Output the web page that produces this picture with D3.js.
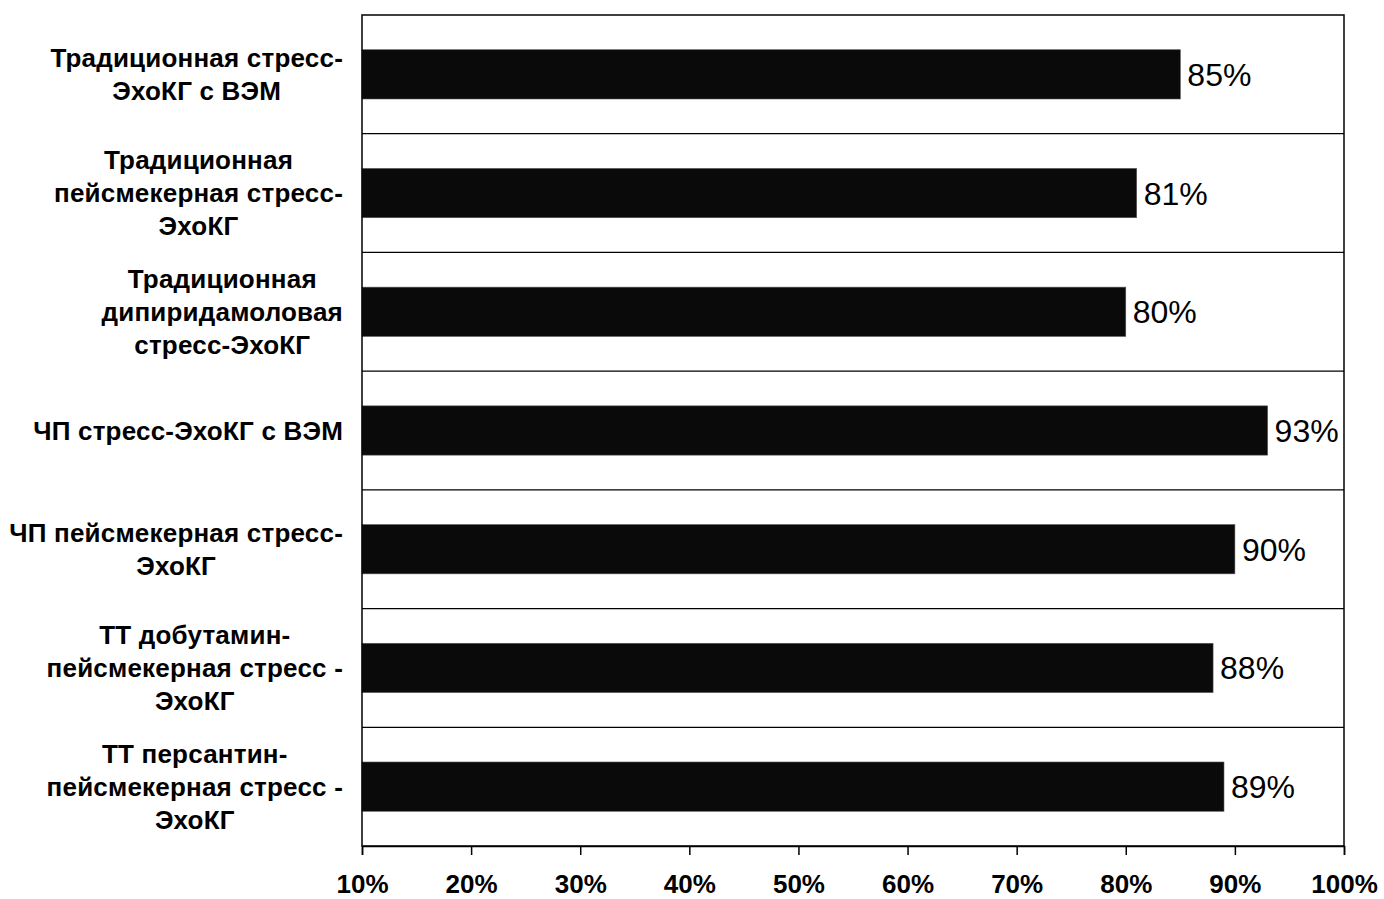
<!DOCTYPE html>
<html>
<head>
<meta charset="utf-8">
<script src="https://cdn.jsdelivr.net/npm/d3@7"></script>
<style>
  html, body { margin: 0; padding: 0; background: #fff; }
  svg { display: block; }
</style>
</head>
<body>
<svg id="chart" width="1384" height="899"></svg>
<script>
// Methods (each label split into lines as printed)
const categories = [
  ["Традиционная стресс-", "ЭхоКГ с ВЭМ"],
  ["Традиционная", "пейсмекерная стресс-", "ЭхоКГ"],
  ["Традиционная", "дипиридамоловая", "стресс-ЭхоКГ"],
  ["ЧП стресс-ЭхоКГ с ВЭМ"],
  ["ЧП пейсмекерная стресс-", "ЭхоКГ"],
  ["ТТ добутамин-", "пейсмекерная стресс -", "ЭхоКГ"],
  ["ТТ персантин-", "пейсмекерная стресс -", "ЭхоКГ"]
];
// Percentage values per method
const values = [85, 81, 80, 93, 90, 88, 89];
// X axis tick values (percent)
const xTicks = [10, 20, 30, 40, 50, 60, 70, 80, 90, 100];

const svg = d3.select("#chart");
const plot = { left: 362, right: 1344, top: 15, bottom: 846 };
const font = "'Liberation Sans', Arial, sans-serif";

const x = d3.scaleLinear().domain([10, 100]).range([plot.left, plot.right]);
const y = d3.scaleBand()
  .domain(d3.range(categories.length))
  .range([plot.top, plot.bottom])
  .paddingInner(0.585)
  .paddingOuter(0.2925);

const step = y.step();

// Bars
svg.append("g").selectAll("rect")
  .data(values)
  .join("rect")
  .attr("x", x(10))
  .attr("y", (d, i) => y(i))
  .attr("width", d => x(d) - x(10))
  .attr("height", y.bandwidth())
  .attr("fill", "#0a0a0a")
  .attr("stroke", "#555")
  .attr("stroke-width", 0.6);

// Horizontal separators between categories
svg.append("g").selectAll("line")
  .data(d3.range(1, categories.length))
  .join("line")
  .attr("x1", plot.left).attr("x2", plot.right)
  .attr("y1", i => plot.top + i * step)
  .attr("y2", i => plot.top + i * step)
  .attr("stroke", "#000").attr("stroke-width", 1.3);

// Plot frame
svg.append("rect")
  .attr("x", plot.left).attr("y", plot.top)
  .attr("width", plot.right - plot.left)
  .attr("height", plot.bottom - plot.top)
  .attr("fill", "none").attr("stroke", "#000").attr("stroke-width", 1.5);

// X axis
const xAxis = d3.axisBottom(x)
  .tickValues(xTicks)
  .tickFormat(d => d + "%")
  .tickSize(9)
  .tickPadding(20);
const gx = svg.append("g")
  .attr("transform", `translate(0,${plot.bottom})`)
  .call(xAxis);
gx.select(".domain").attr("stroke", "#000").attr("stroke-width", 1.5);
gx.selectAll(".tick line").attr("stroke", "#000").attr("stroke-width", 1.5);
gx.selectAll(".tick text")
  .attr("fill", "#000")
  .style("font-family", font)
  .style("font-weight", "bold")
  .style("font-size", "26px");

// Value labels
svg.append("g").selectAll("text")
  .data(values)
  .join("text")
  .attr("x", d => x(d) + 7)
  .attr("y", (d, i) => y(i) + y.bandwidth() / 2)
  .attr("dy", "0.36em")
  .style("font-family", font)
  .style("font-size", "32px")
  .attr("fill", "#000")
  .text(d => d + "%");

// Category labels: each block right-aligned, its lines centred within it
const labelRight = 343;
const lineH = 33;
const gy = svg.append("g")
  .style("font-family", font)
  .style("font-weight", "bold")
  .style("font-size", "26px")
  .style("letter-spacing", "0.2px");

categories.forEach((lines, i) => {
  const cy = y(i) + y.bandwidth() / 2;
  const t = gy.append("text").attr("text-anchor", "middle").attr("fill", "#000");
  const spans = lines.map((ln, k) =>
    t.append("tspan")
      .attr("y", cy + (k - (lines.length - 1) / 2) * lineH)
      .attr("dy", "0.36em")
      .text(ln));
  const maxW = d3.max(spans, s => s.node().getComputedTextLength());
  spans.forEach(s => s.attr("x", labelRight - maxW / 2));
});
</script>
</body>
</html>
